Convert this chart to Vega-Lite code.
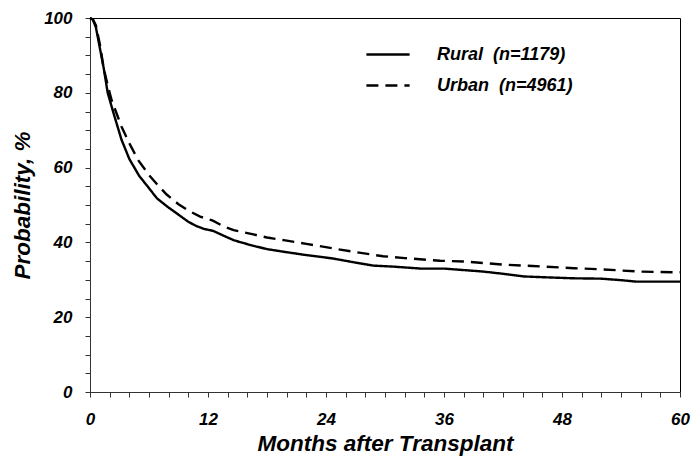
{
  "$schema": "https://vega.github.io/schema/vega-lite/v6.json",
  "width": 590,
  "height": 374,
  "autosize": {"type": "none"},
  "padding": {"left": 90, "top": 18, "right": 18, "bottom": 75},
  "background": "white",
  "config": {
    "view": {"stroke": "#000", "strokeWidth": 1},
    "font": "Liberation Sans",
    "axis": {
      "grid": false,
      "domainColor": "#333",
      "tickColor": "#333",
      "tickSize": 5,
      "labelFont": "Liberation Sans",
      "labelFontSize": 17,
      "labelFontWeight": "bold",
      "labelFontStyle": "italic",
      "labelColor": "#000",
      "labelFlush": false,
      "labelOverlap": false,
      "titleFont": "Liberation Sans",
      "titleFontSize": 22.5,
      "titleFontWeight": "bold",
      "titleFontStyle": "italic",
      "titleColor": "#000"
    }
  },
  "data": {
    "values": [
      {"group": "Rural", "month": 0, "p": 100},
      {"group": "Rural", "month": 0.3, "p": 99.5},
      {"group": "Rural", "month": 0.6, "p": 97.5},
      {"group": "Rural", "month": 1.0, "p": 92},
      {"group": "Rural", "month": 1.4, "p": 86.5},
      {"group": "Rural", "month": 1.8, "p": 80},
      {"group": "Rural", "month": 2.4, "p": 74.5},
      {"group": "Rural", "month": 3.2, "p": 67.5},
      {"group": "Rural", "month": 4.0, "p": 62.3},
      {"group": "Rural", "month": 5.0, "p": 57.8},
      {"group": "Rural", "month": 6.0, "p": 54.5},
      {"group": "Rural", "month": 6.8, "p": 51.8},
      {"group": "Rural", "month": 8.0, "p": 49.3},
      {"group": "Rural", "month": 8.8, "p": 47.8},
      {"group": "Rural", "month": 10.0, "p": 45.5},
      {"group": "Rural", "month": 10.8, "p": 44.4},
      {"group": "Rural", "month": 11.6, "p": 43.6},
      {"group": "Rural", "month": 12.5, "p": 43.1},
      {"group": "Rural", "month": 13.5, "p": 41.9},
      {"group": "Rural", "month": 14.6, "p": 40.6},
      {"group": "Rural", "month": 16.3, "p": 39.3},
      {"group": "Rural", "month": 18, "p": 38.2},
      {"group": "Rural", "month": 19.7, "p": 37.5},
      {"group": "Rural", "month": 22, "p": 36.6},
      {"group": "Rural", "month": 24.7, "p": 35.7},
      {"group": "Rural", "month": 27, "p": 34.6},
      {"group": "Rural", "month": 28.8, "p": 33.8},
      {"group": "Rural", "month": 31, "p": 33.5},
      {"group": "Rural", "month": 33.6, "p": 33.0},
      {"group": "Rural", "month": 36, "p": 33.0},
      {"group": "Rural", "month": 38, "p": 32.6},
      {"group": "Rural", "month": 40, "p": 32.2},
      {"group": "Rural", "month": 42, "p": 31.6},
      {"group": "Rural", "month": 44.1, "p": 30.9},
      {"group": "Rural", "month": 46, "p": 30.7},
      {"group": "Rural", "month": 49.2, "p": 30.4},
      {"group": "Rural", "month": 52, "p": 30.3},
      {"group": "Rural", "month": 54, "p": 29.9},
      {"group": "Rural", "month": 55.6, "p": 29.5},
      {"group": "Rural", "month": 60, "p": 29.5},
      {"group": "Urban", "month": 0, "p": 100},
      {"group": "Urban", "month": 0.3, "p": 99.6},
      {"group": "Urban", "month": 0.6, "p": 98},
      {"group": "Urban", "month": 1.0, "p": 93},
      {"group": "Urban", "month": 1.4, "p": 86.5},
      {"group": "Urban", "month": 1.8, "p": 82},
      {"group": "Urban", "month": 2.2, "p": 78},
      {"group": "Urban", "month": 3.2, "p": 71},
      {"group": "Urban", "month": 4.0, "p": 66.5},
      {"group": "Urban", "month": 4.9, "p": 62},
      {"group": "Urban", "month": 6.0, "p": 58},
      {"group": "Urban", "month": 7.0, "p": 55},
      {"group": "Urban", "month": 7.8, "p": 52.8},
      {"group": "Urban", "month": 9.0, "p": 50.2},
      {"group": "Urban", "month": 10.0, "p": 48.5},
      {"group": "Urban", "month": 11.2, "p": 46.9},
      {"group": "Urban", "month": 12.5, "p": 45.8},
      {"group": "Urban", "month": 13.5, "p": 44.4},
      {"group": "Urban", "month": 14.6, "p": 43.3},
      {"group": "Urban", "month": 16.5, "p": 42.2},
      {"group": "Urban", "month": 18, "p": 41.3},
      {"group": "Urban", "month": 19.7, "p": 40.6},
      {"group": "Urban", "month": 22, "p": 39.6},
      {"group": "Urban", "month": 24.7, "p": 38.4},
      {"group": "Urban", "month": 27, "p": 37.4},
      {"group": "Urban", "month": 29.8, "p": 36.3},
      {"group": "Urban", "month": 32, "p": 35.8},
      {"group": "Urban", "month": 35.6, "p": 35.1},
      {"group": "Urban", "month": 38, "p": 34.9},
      {"group": "Urban", "month": 40, "p": 34.5},
      {"group": "Urban", "month": 42.4, "p": 34.0},
      {"group": "Urban", "month": 45, "p": 33.7},
      {"group": "Urban", "month": 49.2, "p": 33.1},
      {"group": "Urban", "month": 52, "p": 32.8},
      {"group": "Urban", "month": 55.9, "p": 32.2},
      {"group": "Urban", "month": 60, "p": 32.0}
    ]
  },
  "mark": {"type": "line", "color": "#000", "strokeWidth": 2.4, "strokeCap": "butt"},
  "encoding": {
    "x": {
      "field": "month",
      "type": "quantitative",
      "scale": {"domain": [0, 60], "nice": false, "zero": false},
      "axis": {
        "title": "Months after Transplant",
        "values": [0, 2, 4, 6, 8, 10, 12, 14, 16, 18, 20, 22, 24, 26, 28, 30, 32, 34, 36, 38, 40, 42, 44, 46, 48, 50, 52, 54, 56, 58, 60],
        "labelExpr": "datum.value % 12 == 0 ? datum.label : ''",
        "labelPadding": 14,
        "titlePadding": 5
      }
    },
    "y": {
      "field": "p",
      "type": "quantitative",
      "scale": {"domain": [0, 100], "nice": false},
      "axis": {
        "title": "Probability, %",
        "values": [0, 5, 10, 15, 20, 25, 30, 35, 40, 45, 50, 55, 60, 65, 70, 75, 80, 85, 90, 95, 100],
        "labelExpr": "datum.value % 20 == 0 ? datum.label : ''",
        "labelPadding": 13,
        "titlePadding": 9
      }
    },
    "strokeDash": {
      "field": "group",
      "type": "nominal",
      "scale": {"domain": ["Rural", "Urban"], "range": [[1, 0], [12, 7]]},
      "legend": {
        "title": null,
        "orient": "none",
        "legendX": 283,
        "legendY": 21.5,
        "padding": 0,
        "symbolType": "M-1.6,0H1.6",
        "symbolSize": 729,
        "symbolStrokeColor": "#000",
        "symbolStrokeWidth": 2.4,
        "labelFont": "Liberation Sans",
        "labelFontSize": 18,
        "labelFontWeight": "bold",
        "labelFontStyle": "italic",
        "labelColor": "#000",
        "labelOffset": 34,
        "rowPadding": 7,
        "labelLimit": 300,
        "labelExpr": "datum.label == 'Rural' ? 'Rural\u00a0\u00a0(n=1179)' : 'Urban\u00a0\u00a0(n=4961)'"
      }
    }
  }
}
